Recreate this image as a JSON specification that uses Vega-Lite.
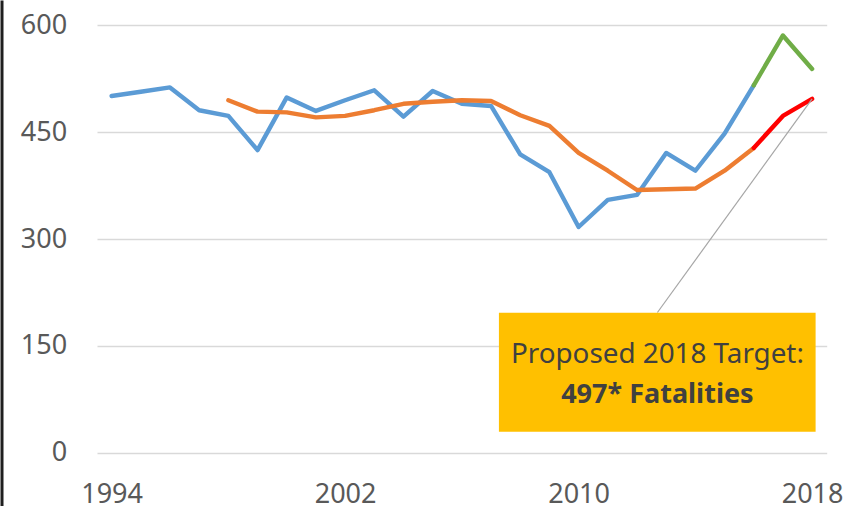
{
  "$schema": "https://vega.github.io/schema/vega-lite/v6.json",
  "width": 729.7,
  "height": 506,
  "autosize": {"type": "none"},
  "padding": {"left": 97, "right": 19.3, "top": 0, "bottom": 0},
  "background": "white",
  "config": {"view": {"stroke": null}, "font": "Noto Sans"},
  "datasets": {
    "series": [
      {"year": 1994, "value": 501, "series": "Actual"},
      {"year": 1995, "value": 507, "series": "Actual"},
      {"year": 1996, "value": 513, "series": "Actual"},
      {"year": 1997, "value": 481, "series": "Actual"},
      {"year": 1998, "value": 473, "series": "Actual"},
      {"year": 1999, "value": 425, "series": "Actual"},
      {"year": 2000, "value": 499, "series": "Actual"},
      {"year": 2001, "value": 480, "series": "Actual"},
      {"year": 2002, "value": 495, "series": "Actual"},
      {"year": 2003, "value": 509, "series": "Actual"},
      {"year": 2004, "value": 472, "series": "Actual"},
      {"year": 2005, "value": 508, "series": "Actual"},
      {"year": 2006, "value": 490, "series": "Actual"},
      {"year": 2007, "value": 487, "series": "Actual"},
      {"year": 2008, "value": 419, "series": "Actual"},
      {"year": 2009, "value": 394, "series": "Actual"},
      {"year": 2010, "value": 317, "series": "Actual"},
      {"year": 2011, "value": 355, "series": "Actual"},
      {"year": 2012, "value": 362, "series": "Actual"},
      {"year": 2013, "value": 421, "series": "Actual"},
      {"year": 2014, "value": 396, "series": "Actual"},
      {"year": 2015, "value": 448, "series": "Actual"},
      {"year": 2016, "value": 516, "series": "Actual"},
      {"year": 2016, "value": 516, "series": "Recent"},
      {"year": 2017, "value": 586, "series": "Recent"},
      {"year": 2018, "value": 539, "series": "Recent"},
      {"year": 1998, "value": 495, "series": "Average"},
      {"year": 1999, "value": 479, "series": "Average"},
      {"year": 2000, "value": 478, "series": "Average"},
      {"year": 2001, "value": 471, "series": "Average"},
      {"year": 2002, "value": 473, "series": "Average"},
      {"year": 2003, "value": 481, "series": "Average"},
      {"year": 2004, "value": 490, "series": "Average"},
      {"year": 2005, "value": 493, "series": "Average"},
      {"year": 2006, "value": 495, "series": "Average"},
      {"year": 2007, "value": 494, "series": "Average"},
      {"year": 2008, "value": 474, "series": "Average"},
      {"year": 2009, "value": 459, "series": "Average"},
      {"year": 2010, "value": 421, "series": "Average"},
      {"year": 2011, "value": 396, "series": "Average"},
      {"year": 2012, "value": 369, "series": "Average"},
      {"year": 2013, "value": 370, "series": "Average"},
      {"year": 2014, "value": 371, "series": "Average"},
      {"year": 2015, "value": 396, "series": "Average"},
      {"year": 2016, "value": 428, "series": "Average"},
      {"year": 2016, "value": 428, "series": "Target"},
      {"year": 2017, "value": 473, "series": "Target"},
      {"year": 2018, "value": 497, "series": "Target"}
    ],
    "leader": [{"year": 2018, "value": 497, "year2": 2012.7, "value2": 196.9}],
    "box": [{"year": 2007.27, "year2": 2018.12, "value": 196.6, "value2": 29.5}],
    "line1": [{"year": 2012.7, "value": 125.6, "label": "Proposed 2018 Target:"}],
    "line2": [{"year": 2012.7, "value": 70.2, "label": "497* Fatalities"}]
  },
  "layer": [
    {
      "data": {"name": "series"},
      "transform": [{"filter": {"field": "series", "oneOf": ["Actual", "Recent"]}}],
      "mark": {"type": "line", "strokeWidth": 4.4, "strokeCap": "round", "strokeJoin": "round"},
      "encoding": {
        "x": {
          "field": "year", "type": "quantitative",
          "scale": {"domain": [1993.5, 2018.5], "nice": false, "zero": false},
          "axis": {"values": [1994, 2002, 2010, 2018], "format": "d", "title": null, "grid": false, "domain": false, "ticks": false, "tickSize": 0, "labelFontSize": 27, "labelColor": "#595959", "labelPadding": 0, "labelBaseline": "alphabetic", "offset": -3.4, "labelFlush": false, "labelOverlap": false}
        },
        "y": {
          "field": "value", "type": "quantitative",
          "scale": {"domain": [-74.86, 635.81], "nice": false, "zero": false},
          "axis": {"orient": "left", "values": [0, 150, 300, 450, 600], "title": null, "grid": true, "gridColor": "#D9D9D9", "gridWidth": 1.5, "domain": false, "ticks": false, "tickSize": 0, "labelFontSize": 27, "labelColor": "#595959", "labelPadding": 30.3, "labelOverlap": false}
        },
        "color": {
          "field": "series", "type": "nominal",
          "scale": {"domain": ["Actual", "Recent", "Average", "Target"], "range": ["#5B9BD5", "#70AD47", "#ED7D31", "#FF0000"]},
          "legend": null
        }
      }
    },
    {
      "data": {"name": "series"},
      "transform": [{"filter": {"field": "series", "oneOf": ["Average", "Target"]}}],
      "mark": {"type": "line", "strokeWidth": 4.4, "strokeCap": "round", "strokeJoin": "round"},
      "encoding": {
        "x": {"field": "year", "type": "quantitative"},
        "y": {"field": "value", "type": "quantitative", "axis": null},
        "color": {"field": "series", "type": "nominal", "legend": null}
      }
    },
    {
      "data": {"name": "leader"},
      "mark": {"type": "rule", "color": "#A6A6A6", "strokeWidth": 1.2},
      "encoding": {
        "x": {"field": "year", "type": "quantitative"},
        "x2": {"field": "year2"},
        "y": {"field": "value", "type": "quantitative", "axis": null},
        "y2": {"field": "value2"}
      }
    },
    {
      "data": {"name": "box"},
      "mark": {"type": "rect", "color": "#FFC000"},
      "encoding": {
        "x": {"field": "year", "type": "quantitative"},
        "x2": {"field": "year2"},
        "y": {
          "field": "value", "type": "quantitative",
          "axis": {"orient": "left", "offset": 95.5, "domain": true, "domainColor": "#1F1F1F", "domainWidth": 3, "labels": false, "ticks": false, "grid": false, "title": null}
        },
        "y2": {"field": "value2"}
      }
    },
    {
      "data": {"name": "line1"},
      "mark": {"type": "text", "fontSize": 27.8, "color": "#404040", "align": "center", "baseline": "alphabetic", "font": "Noto Sans"},
      "encoding": {
        "x": {"field": "year", "type": "quantitative"},
        "y": {"field": "value", "type": "quantitative", "axis": null},
        "text": {"field": "label"}
      }
    },
    {
      "data": {"name": "line2"},
      "mark": {"type": "text", "fontSize": 27, "fontWeight": "bold", "color": "#404040", "align": "center", "baseline": "alphabetic", "font": "Noto Sans"},
      "encoding": {
        "x": {"field": "year", "type": "quantitative"},
        "y": {"field": "value", "type": "quantitative", "axis": null},
        "text": {"field": "label"}
      }
    }
  ],
  "resolve": {"axis": {"y": "independent"}}
}
